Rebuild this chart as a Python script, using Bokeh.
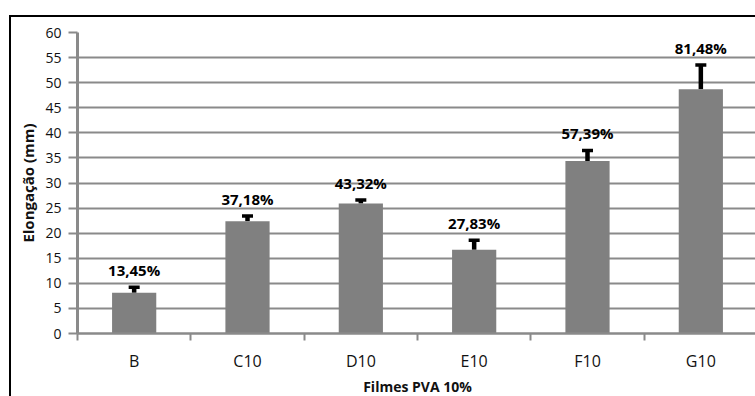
from bokeh.plotting import figure
from bokeh.models import (ColumnDataSource, Range1d, FixedTicker, Whisker, TeeHead,
                          LabelSet, Title)
from bokeh.core.properties import value
from bokeh.embed import file_html
from bokeh.resources import INLINE

# ---- data ----
categories = ["B", "C10", "D10", "E10", "F10", "G10"]
elongation = [8.1, 22.4, 25.9, 16.7, 34.4, 48.7]
error_up = [1.1, 1.0, 0.7, 1.9, 2.1, 4.8]
percent_labels = ["13,45%", "37,18%", "43,32%", "27,83%", "57,39%", "81,48%"]
y_ticks = [0, 5, 10, 15, 20, 25, 30, 35, 40, 45, 50, 55, 60]
y_title = "Elongação (mm)"
x_title = "Filmes PVA 10%"

# ---- derived ----
xc = [i + 0.5 for i in range(len(categories))]
bounds = list(range(len(categories) + 1))
upper = [v + e for v, e in zip(elongation, error_up)]
src = ColumnDataSource(dict(x=xc, top=elongation, upper=upper, label=percent_labels))

GRAY = "#8a8a8a"
FONT = "Open Sans"

p = figure(width=746, height=381, output_backend="svg", toolbar_location=None,
           x_range=Range1d(0, 6.0), y_range=Range1d(0, 60),
           min_border_left=66, min_border_right=0, min_border_top=15, min_border_bottom=64)
p.margin = (15, 0, 0, 9)
p.styles = {"border-top": "2px solid black", "border-left": "2px solid black"}
p.outline_line_color = None
p.background_fill_color = "white"
p.border_fill_color = "white"

# grid
p.xgrid.visible = False
p.ygrid.ticker = FixedTicker(ticks=y_ticks)
p.ygrid.grid_line_color = GRAY
p.ygrid.grid_line_width = 2

# bars
p.vbar(x="x", top="top", bottom=0, width=0.39, source=src,
       fill_color="#808080", line_color=None)

# error bars (upper only)
wh = Whisker(source=src, base="x", upper="upper", lower="top",
             line_color="black", line_width=4.5,
             upper_head=TeeHead(size=11, line_color="black", line_width=3.5),
             lower_head=None)
p.add_layout(wh)

# data labels
ls = LabelSet(x="x", y="upper", text="label", source=src, y_offset=17,
              text_align="center", text_baseline="middle",
              text_font=value(FONT), text_font_style="bold", text_font_size="15px",
              text_color="black")
p.add_layout(ls)

# y axis
ya = p.yaxis[0]
ya.ticker = FixedTicker(ticks=y_ticks)
ya.axis_line_color = GRAY
ya.axis_line_width = 3
ya.major_tick_line_color = GRAY
ya.major_tick_line_width = 2
ya.major_tick_out = 9
ya.major_tick_in = 0
ya.minor_tick_line_color = None
ya.major_label_standoff = 7
ya.major_label_text_font = FONT
ya.major_label_text_font_size = "14px"
ya.major_label_text_color = "#111111"

# x axis
xa = p.xaxis[0]
xa.ticker = FixedTicker(ticks=xc, minor_ticks=bounds)
xa.major_label_overrides = {x: c for x, c in zip(xc, categories)}
xa.axis_line_color = GRAY
xa.axis_line_width = 2.5
xa.major_tick_line_color = None
xa.major_tick_out = 7
xa.major_tick_in = 0
xa.minor_tick_line_color = GRAY
xa.minor_tick_line_width = 2
xa.minor_tick_out = 7
xa.minor_tick_in = 0
xa.major_label_standoff = 9
xa.major_label_text_font = FONT
xa.major_label_text_font_size = "16px"
xa.major_label_text_color = "#111111"
xa.axis_label = x_title
xa.axis_label_standoff = 2
xa.axis_label_text_font = FONT
xa.axis_label_text_font_style = "bold"
xa.axis_label_text_font_size = "14px"
xa.axis_label_text_color = "#111111"

# y axis title (offset upward like the reference)
yt = Title(text=y_title, align="center", offset=16, standoff=9,
           text_font=FONT, text_font_style="bold", text_font_size="15px",
           text_color="#111111")
p.add_layout(yt, "left")

open("out.html", "w").write(file_html(p, INLINE))
